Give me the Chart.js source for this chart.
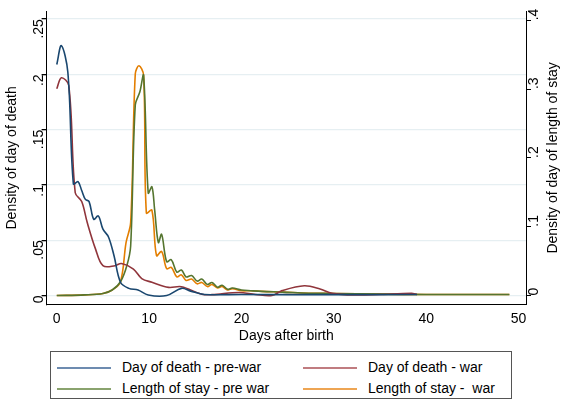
<!DOCTYPE html>
<html><head><meta charset="utf-8">
<script src="https://cdn.jsdelivr.net/npm/chart.js@4/dist/chart.umd.min.js"></script>
<style>
body{margin:0;background:#fff;font-family:"Liberation Sans",Arial,sans-serif;}
#wrap{position:absolute;left:0;top:0;width:561px;height:349px;}
#legend{position:absolute;left:50px;top:351px;width:462px;height:48px;border:1px solid #555;box-sizing:border-box;font-size:14px;color:#000;}
.item{position:absolute;height:16px;line-height:16px;}
.item span{display:inline-block;width:54px;height:2px;vertical-align:middle;margin-right:11px;}
</style></head><body>
<div id="wrap"><canvas id="c"></canvas></div>
<div id="legend">
 <div class="item" style="left:6px;top:7px"><span style="background:#6d8bb0"></span>Day of death - pre-war</div>
 <div class="item" style="left:252px;top:7px"><span style="background:#c07c80"></span>Day of death - war</div>
 <div class="item" style="left:6px;top:28px"><span style="background:#8aa36e"></span>Length of stay - pre war</div>
 <div class="item" style="left:252px;top:28px"><span style="background:#eea553"></span>Length of stay - &nbsp;war</div>
</div>
<script>
// day of death, left axis
const preDeathDays = [0,0.5,1.2,1.8,2.3,2.7,3.1,3.5,4,4.5,5,5.6,6.2,6.9,7.8,8.8,9.9,11.9,13.5,14.5,16,20,30,39];
const preDeathVals = [.209,.226,.202,.101,.103,.095,.087,.085,.069,.072,.060,.053,.036,.012,.0065,.005,.0005,0,.0065,.004,.001,.001,.0008,.001];
const warDeathDays = [0,0.5,1.3,2,2.7,3.3,4.2,5,6.3,7,8.3,9.2,10.3,12.1,13.5,15.7,16.8,19.7,21.5,23.3,24.4,26.8,28.5,29.8,32.3,35,38.4,39];
const warDeathVals = [.187,.197,.190,.093,.085,.066,.042,.027,.027,.029,.024,.0154,.012,.0074,.008,.0012,.0008,.0027,.001,0,.0045,.0089,.006,.002,.0005,.001,.002,.001];
// length of stay, right axis
const preStayDays = [0,3,5,6,6.9,7.6,8,8.5,9,9.4,9.9,10.3,10.6,11,11.35,11.9,12.4,13,13.5,14,14.6,15.2,15.7,16.3,16.8,17.4,17.9,18.5,19,20,21,22.2,24.4,27.3,30,35,40,45,49];
const preStayVals = [0,.001,.003,.008,.02,.044,.072,.277,.296,.32,.149,.158,.124,.077,.089,.049,.052,.034,.037,.027,.029,.021,.024,.016,.019,.012,.015,.009,.011,.008,.007,.006,.005,.0034,.003,.002,.0015,.0015,.0015];
const warStayDays = [0,3,5,6,6.9,7.5,8,8.5,8.9,9.4,9.7,10.3,10.8,11.35,11.9,12.4,13,13.5,14,14.6,15.2,15.7,16.3,16.8,17.4,17.9,18.5,19,20,21,22.2,24.4,27.3,30,35,40,45,49];
const warStayVals = [0,.001,.003,.008,.02,.077,.106,.322,.334,.32,.12,.124,.058,.064,.039,.041,.027,.030,.022,.024,.017,.019,.013,.016,.011,.013,.008,.010,.007,.007,.006,.005,.0034,.003,.002,.0015,.0015,.0015];
const xTicks = [0,10,20,30,40,50];
const rightTitle = 'Density of day of length of stay';

const pts = (xs, ys) => xs.map((x, i) => ({x: x, y: ys[i]}));
const ds = (label, xs, ys, color, axis) => ({label, data: pts(xs, ys), borderColor: color, borderWidth: 1.6, pointRadius: 0, tension: 0.35, yAxisID: axis, fill: false});
const fmt = v => v === 0 ? '0' : String(+v.toFixed(2)).replace(/^0/, '');
const font = {size: 14, family: 'Liberation Sans'};

// right axis title reads bottom-to-top like the left one
const rightTitlePlugin = {
  id: 'rightTitle',
  afterDraw(chart) {
    const ctx = chart.ctx, a = chart.chartArea;
    ctx.save();
    ctx.translate(chart.width - 1, (a.top + a.bottom) / 2);
    ctx.rotate(-Math.PI / 2);
    ctx.font = '14px "Liberation Sans"';
    ctx.fillStyle = '#000';
    ctx.textAlign = 'center';
    ctx.textBaseline = 'bottom';
    ctx.fillText(rightTitle, 0, 0);
    ctx.restore();
  }
};

new Chart(document.getElementById('c'), {
  type: 'line',
  data: {datasets: [
    ds('Day of death - pre-war', preDeathDays, preDeathVals, '#1a476f', 'y'),
    ds('Day of death - war', warDeathDays, warDeathVals, '#90353b', 'y'),
    ds('Length of stay - pre war', preStayDays, preStayVals, '#55752f', 'y2'),
    ds('Length of stay -  war', warStayDays, warStayVals, '#e37e00', 'y2')
  ]},
  plugins: [rightTitlePlugin],
  options: {
    responsive: true, maintainAspectRatio: false, animation: false,
    layout: {padding: {top: 5, right: 13, left: 0, bottom: 0}},
    plugins: {legend: {display: false}, tooltip: {enabled: false}},
    scales: {
      x: {type: 'linear', min: -1.1, max: 50.8, afterBuildTicks: a => { a.ticks = xTicks.map(v => ({value: v})); },
        border: {color: '#000'}, grid: {display: false, drawOnChartArea: false, drawTicks: true, tickLength: 5, tickColor: '#000'},
        ticks: {color: '#000', font, padding: 1},
        title: {display: true, text: 'Days after birth', color: '#000', font, padding: {top: 0}}},
      y: {position: 'left', min: -0.008, max: 0.257, afterBuildTicks: a => { a.ticks = [0,.05,.1,.15,.2,.25].map(v => ({value: v})); },
        border: {color: '#000'}, grid: {color: '#e6eff2', lineWidth: 1.3, tickColor: '#000', tickLength: 5},
        ticks: {color: '#000', font, minRotation: 90, maxRotation: 90, padding: 2, callback: fmt},
        title: {display: true, text: 'Density of day of death', color: '#000', font, padding: {bottom: 0}}},
      y2: {position: 'right', min: -0.0129, max: 0.4129, afterBuildTicks: a => { a.ticks = [0,.1,.2,.3,.4].map(v => ({value: v})); },
        afterFit: s => { s.width = 22; },
        border: {color: '#000'}, grid: {drawOnChartArea: false, tickColor: '#000', tickLength: 5},
        ticks: {color: '#000', font, minRotation: 90, maxRotation: 90, padding: 3, callback: fmt}}
    }
  }
});
</script>
</body></html>
